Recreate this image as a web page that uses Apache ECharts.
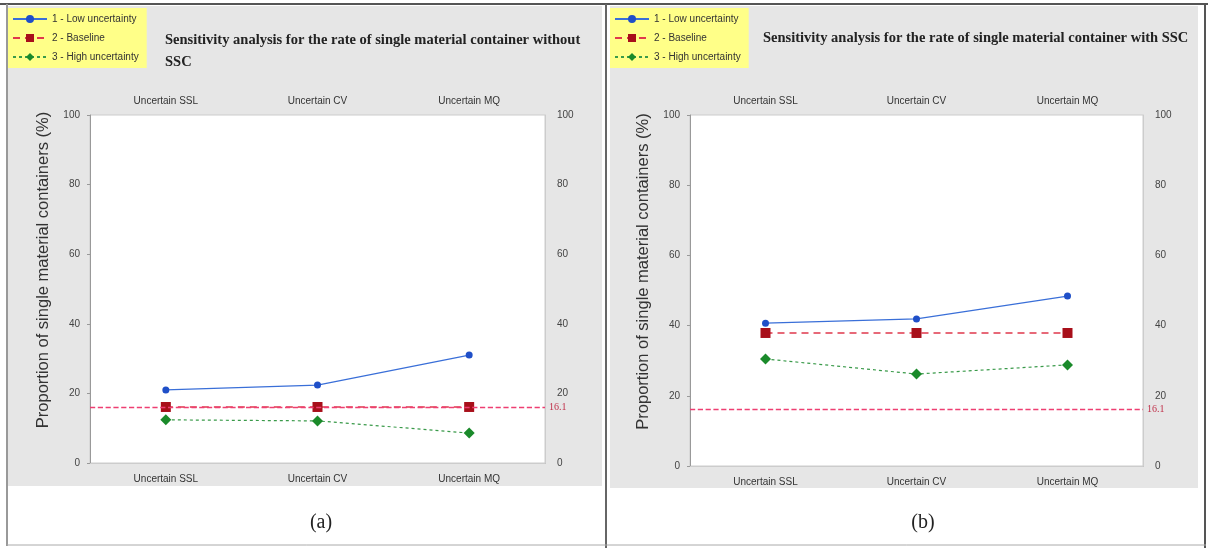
<!DOCTYPE html>
<html>
<head>
<meta charset="utf-8">
<script src="https://cdn.jsdelivr.net/npm/echarts@6/dist/echarts.min.js"></script>
<style>
html,body{margin:0;padding:0;background:#fff;}
#chart{width:1208px;height:548px;}
</style>
</head>
<body>
<div id="chart"></div>
<script>
// ---- data ----
const categories = ["Uncertain SSL", "Uncertain CV", "Uncertain MQ"];
const seriesNames = ["1 - Low uncertainty", "2 - Baseline", "3 - High uncertainty"];
const lowA = [21.0, 22.4, 31.0];
const baseA = [16.1, 16.1, 16.1];
const highA = [12.4, 12.1, 8.6];
const lowB = [40.7, 41.9, 48.4];
const baseB = [37.9, 37.9, 37.9];
const highB = [30.5, 26.2, 28.8];
const refValue = 16.1;
const yTicks = [0, 20, 40, 60, 80, 100];
const titleA = "Sensitivity analysis for the rate of single material container without\nSSC";
const titleB = "Sensitivity analysis for the rate of single material container with SSC";
const yName = "Proportion of single material containers (%)";
const captions = ["(a)", "(b)"];

const chart = echarts.init(document.getElementById('chart'));

const gray = '#e6e6e6';
const refColor = '#ee3f72';
const grids = [
  {left: 90, top: 115, width: 455, height: 348},
  {left: 690, top: 115, width: 453, height: 351}
];

const styles = [
  {color: '#1f4fc8', symbol: 'circle', size: 7, type: 'solid', lineColor: '#3a6fd8', width: 1.2},
  {color: '#a80f1a', symbol: 'rect', size: 10, type: [7, 5], lineColor: '#e0384c', width: 1.4},
  {color: '#1a8a2a', symbol: 'diamond', size: 11, type: [3, 3], lineColor: '#3a9a4a', width: 1.2}
];

const xAxes = [], yAxes = [], series = [];
grids.forEach((g, i) => {
  xAxes.push({
    type: 'category', gridIndex: i, data: categories, position: 'bottom',
    axisLine: {show: true, lineStyle: {color: '#999'}}, axisTick: {show: false},
    axisLabel: {color: '#333', fontSize: 10, margin: 11, fontFamily: 'Liberation Sans'}
  });
  xAxes.push({
    type: 'category', gridIndex: i, data: categories, position: 'top',
    axisLine: {show: true, lineStyle: {color: '#ccc'}}, axisTick: {show: false},
    axisLabel: {color: '#333', fontSize: 10, margin: 9, fontFamily: 'Liberation Sans'}
  });
  yAxes.push({
    type: 'value', gridIndex: i, min: 0, max: 100, interval: 20, position: 'left',
    name: yName, nameLocation: 'middle', nameGap: 38,
    nameTextStyle: {color: '#333', fontSize: 16.5, fontFamily: 'Liberation Sans', padding: [0, 0, 0, 38]},
    axisLine: {show: true, lineStyle: {color: '#999'}},
    axisTick: {show: true, length: 3, lineStyle: {color: '#999'}},
    splitLine: {show: false},
    axisLabel: {color: '#444', fontSize: 10, margin: 10, fontFamily: 'Liberation Sans',
      formatter: v => yTicks.includes(v) ? String(v) : ''}
  });
  yAxes.push({
    type: 'value', gridIndex: i, min: 0, max: 100, interval: 20, position: 'right',
    axisLine: {show: true, lineStyle: {color: '#ccc'}},
    axisTick: {show: false}, splitLine: {show: false},
    axisLabel: {color: '#444', fontSize: 10, margin: 12, fontFamily: 'Liberation Sans'}
  });
});

const dataSets = [[lowA, baseA, highA], [lowB, baseB, highB]];
dataSets.forEach((set, gi) => {
  set.forEach((vals, si) => {
    const st = styles[si];
    const s = {
      name: seriesNames[si], type: 'line', xAxisIndex: gi * 2, yAxisIndex: gi * 2,
      data: vals, symbol: st.symbol, symbolSize: st.size,
      itemStyle: {color: st.color},
      lineStyle: {color: st.lineColor, type: st.type, width: st.width},
      z: 5 - si
    };
    if (si === 0) {
      s.markLine = {
        silent: true, symbol: ['none', 'none'],
        label: {show: true, position: 'end', formatter: String(refValue), color: '#c0304a',
          fontSize: 10, fontFamily: 'Liberation Serif', distance: 4},
        data: [{
          yAxis: refValue,
          lineStyle: {color: refColor, type: 'dashed', dashOffset: 0, width: 1.3, opacity: 1},
          itemStyle: {color: refColor}
        }]
      };
    }
    series.push(s);
  });
});

const legends = [0, 1].map(i => ({
  data: seriesNames, orient: 'vertical',
  left: i === 0 ? 8 : 610, top: 8,
  backgroundColor: '#ffff88', padding: [6, 8, 6, 4],
  itemGap: 9, itemWidth: 34, itemHeight: 10,
  textStyle: {fontSize: 10, color: '#333', fontFamily: 'Liberation Sans'},
  selectedMode: false
}));

const option = {
  animation: false,
  backgroundColor: '#fff',
  graphic: [
    {type: 'rect', shape: {x: 8, y: 6, width: 594, height: 480}, style: {fill: gray}, z: -10},
    {type: 'rect', shape: {x: 610, y: 6, width: 588, height: 482}, style: {fill: gray}, z: -10},
    {type: 'line', shape: {x1: 0, y1: 4, x2: 1208, y2: 4}, style: {stroke: '#555', lineWidth: 2}, z: -5},
    {type: 'line', shape: {x1: 7, y1: 4, x2: 7, y2: 546}, style: {stroke: '#999', lineWidth: 2}, z: -5},
    {type: 'line', shape: {x1: 606, y1: 4, x2: 606, y2: 548}, style: {stroke: '#666', lineWidth: 2}, z: -5},
    {type: 'line', shape: {x1: 1205, y1: 4, x2: 1205, y2: 548}, style: {stroke: '#555', lineWidth: 2}, z: -5},
    {type: 'line', shape: {x1: 7, y1: 545, x2: 1206, y2: 545}, style: {stroke: '#aaa', lineWidth: 1}, z: -5}
  ],
  title: [
    {text: titleA, left: 160, top: 24,
      textStyle: {fontFamily: 'Liberation Serif', fontWeight: 'bold', fontSize: 14.5, color: '#222', lineHeight: 22}},
    {text: titleB, left: 758, top: 26,
      textStyle: {fontFamily: 'Liberation Serif', fontWeight: 'bold', fontSize: 14.5, color: '#222'}},
    {text: captions[0], left: 316, top: 518, textAlign: 'center', textVerticalAlign: 'middle',
      textStyle: {fontFamily: 'Liberation Serif', fontWeight: 'normal', fontSize: 20, color: '#222'}},
    {text: captions[1], left: 918, top: 518, textAlign: 'center', textVerticalAlign: 'middle',
      textStyle: {fontFamily: 'Liberation Serif', fontWeight: 'normal', fontSize: 20, color: '#222'}}
  ],
  legend: legends,
  grid: grids.map(g => Object.assign({show: true, backgroundColor: '#fff', borderColor: '#ccc', borderWidth: 1}, g)),
  xAxis: xAxes,
  yAxis: yAxes,
  series: series
};
chart.setOption(option);
</script>
</body>
</html>
